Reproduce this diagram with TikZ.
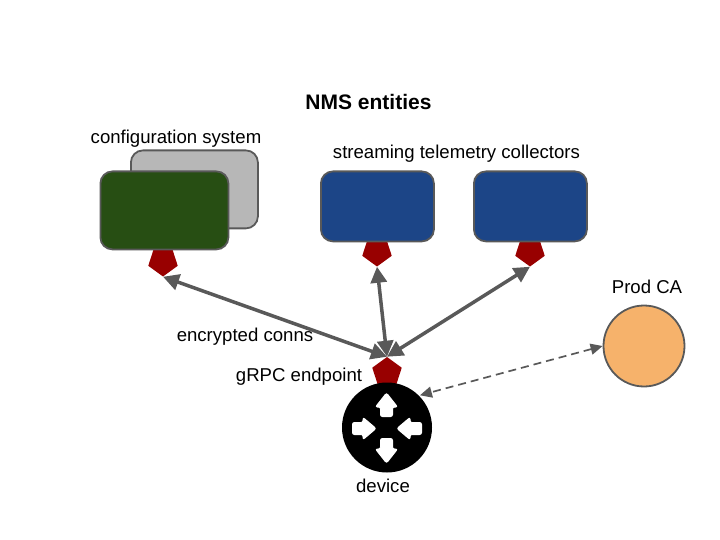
\documentclass[tikz,border=0pt]{standalone}
\usepackage{fontspec}
\setmainfont{Liberation Sans}
\usetikzlibrary{shapes.geometric,arrows.meta}
\definecolor{linegrey}{HTML}{595959}
\definecolor{cfggreen}{HTML}{274E13}
\definecolor{colblue}{HTML}{1C4587}
\definecolor{backgrey}{HTML}{B7B7B7}
\definecolor{portred}{HTML}{980000}
\definecolor{caorange}{HTML}{F6B26B}
\tikzset{
  box/.style={draw=linegrey,line width=1.8pt,rounded corners=12pt,inner sep=0pt,anchor=north west},
  port/.style={regular polygon,regular polygon sides=5,minimum size=31pt,inner sep=0pt,fill=portred},
  portdown/.style={port,shape border rotate=180},
  lbl/.style={font=\fontsize{18.6}{20}\selectfont,inner sep=0pt,text=black},
  conn/.style={draw=linegrey,line width=3.5pt,{Triangle[length=16pt,width=16pt]}-{Triangle[length=16pt,width=16pt]}},
  dconn/.style={draw=linegrey,line width=1.7pt,dashed,dash pattern=on 8pt off 5pt,{Triangle[length=12pt,width=11pt]}-{Triangle[length=12pt,width=11pt]}},
  whitearrow/.style={fill=white,draw=white,line width=1pt,rounded corners=2pt}
}
\begin{document}
\begin{tikzpicture}[x=1pt,y=-1pt]
\useasboundingbox (0,0) rectangle (720,540);
\node[lbl,font=\fontsize{21}{23}\selectfont\bfseries] (title) at (368.5,102) {NMS entities};
\node[lbl] (cfgl) at (176,139) {configuration system};
\node[lbl] (coll) at (456.5,154) {streaming telemetry collectors};
\node[lbl] (cal) at (647,287) {Prod CA};
\node[lbl] (encl) at (245,337) {encrypted conns};
\node[lbl] (grpcl) at (299,377) {gRPC endpoint};
\node[lbl] (devl) at (383,486) {device};
% ports
\node[portdown] (p1) at (163,261) {};
\node[portdown] (p2) at (377,251) {};
\node[portdown] (p3) at (530,251) {};
\node[port] (pd) at (387,372.5) {};
% boxes
\node[box,fill=backgrey,minimum width=127pt,minimum height=78pt] (back) at (130,149.5) {};
\node[box,fill=cfggreen,minimum width=128pt,minimum height=78pt] (cfg) at (99.5,170.5) {};
\node[box,fill=colblue,minimum width=113pt,minimum height=70pt] (c1) at (320,170.5) {};
\node[box,fill=colblue,minimum width=113pt,minimum height=70pt] (c2) at (473,170.5) {};
% device and CA
\node[circle,fill=black,minimum size=90pt,inner sep=0pt] (dev) at (387,427.5) {};
\node[circle,draw=linegrey,line width=1.8pt,fill=caorange,minimum size=81pt,inner sep=0pt] (ca) at (644,346) {};
% connectors
\draw[conn] (p1.corner 1) -- (pd.corner 1);
\draw[conn] (p2.corner 1) -- (pd.corner 1);
\draw[conn] (p3.corner 1) -- (pd.corner 1);
\draw[dconn,shorten >=1pt] (ca.180) -- (dev.45);
% router arrows
\fill[whitearrow] (386.5,393) -- (397.5,407) -- (392.5,407) -- (392.5,416.5) -- (380.5,416.5) -- (380.5,407) -- (375.5,407) -- cycle;
\fill[whitearrow] (386.5,463) -- (397.5,449) -- (392.5,449) -- (392.5,438.5) -- (380.5,438.5) -- (380.5,449) -- (375.5,449) -- cycle;
\fill[whitearrow] (376,428.5) -- (363,417.5) -- (363,422.5) -- (352.5,422.5) -- (352.5,434.5) -- (363,434.5) -- (363,439.5) -- cycle;
\fill[whitearrow] (397,428.5) -- (410,417.5) -- (410,422.5) -- (421.5,422.5) -- (421.5,434.5) -- (410,434.5) -- (410,439.5) -- cycle;
\end{tikzpicture}
\end{document}
